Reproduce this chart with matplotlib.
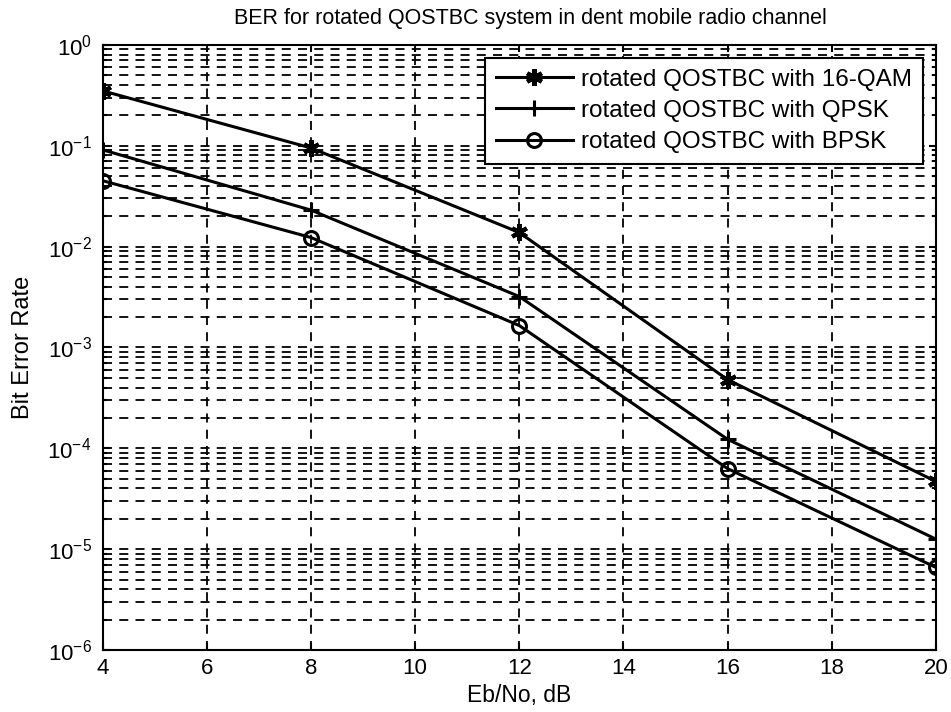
import matplotlib
matplotlib.use("Agg")
import matplotlib.pyplot as plt
import matplotlib.ticker as mticker
import numpy as np

plt.rcParams['font.family'] = ['Liberation Sans', 'DejaVu Sans']
plt.rcParams['mathtext.fontset'] = 'custom'
plt.rcParams['mathtext.rm'] = 'Liberation Sans'
plt.rcParams['mathtext.it'] = 'Liberation Sans'

ebno = [4, 8, 12, 16, 20]
ber_16qam = [0.35, 0.095, 0.0138, 4.8e-4, 4.7e-5]
ber_qpsk = [0.091, 0.023, 3.2e-3, 1.23e-4, 1.26e-5]
ber_bpsk = [0.045, 0.0123, 1.65e-3, 6.3e-5, 6.6e-6]
labels = ['rotated QOSTBC with 16-QAM', 'rotated QOSTBC with QPSK', 'rotated QOSTBC with BPSK']
xticks = [4, 6, 8, 10, 12, 14, 16, 18, 20]
yticks = [1e-6, 1e-5, 1e-4, 1e-3, 1e-2, 1e-1, 1e0]

fig = plt.figure(figsize=(9.51, 7.12), dpi=100)
ax = fig.add_axes([0.108, 0.087, 0.876, 0.85])

ax.semilogy(ebno, ber_16qam, '-k', marker=(6, 2, 0), markersize=12, markeredgewidth=3, linewidth=2.2, label=labels[0])
ax.semilogy(ebno, ber_qpsk, '-k', marker='+', markersize=12, markeredgewidth=2.2, linewidth=2.2, label=labels[1])
ax.semilogy(ebno, ber_bpsk, '-k', marker='o', markersize=10, markerfacecolor='none', markeredgewidth=2.2, linewidth=2.2, label=labels[2])

ax.set_xlim(4, 20)
ax.set_ylim(1e-6, 1)
ax.set_xticks(xticks)
ax.set_yticks(yticks)
ax.yaxis.set_minor_locator(mticker.LogLocator(base=10, subs=np.arange(2, 10), numticks=20))
ax.yaxis.set_minor_formatter(mticker.NullFormatter())
ax.grid(True, which='major', linestyle=(0, (5, 4)), color='k', linewidth=1.3)
ax.grid(True, which='minor', axis='y', linestyle=(0, (5, 4)), color='k', linewidth=1.3)
ax.tick_params(which='both', direction='in', top=True, right=True, labelsize=16, width=1.5)
ax.tick_params(axis='y', which='major', pad=8)
ax.tick_params(axis='x', which='major', pad=6)
ax.tick_params(which='major', length=5)
ax.tick_params(which='minor', length=3)
for s in ax.spines.values():
    s.set_linewidth(1.5)

ax.set_xlabel('Eb/No, dB', fontsize=16.5, labelpad=3)
ax.set_ylabel('Bit Error Rate', fontsize=17, labelpad=10)
ax.set_title('BER for rotated QOSTBC system in dent mobile radio channel', fontsize=15.5, pad=15, x=0.514)

leg = ax.legend(loc='upper right', fontsize=17.5, fancybox=False, framealpha=1,
                edgecolor='k', borderaxespad=0.53, handlelength=3.17, labelspacing=0.38,
                borderpad=0.45, handletextpad=0.33)
leg.get_frame().set_linewidth(1.5)

fig.savefig('out.png', dpi=100)
